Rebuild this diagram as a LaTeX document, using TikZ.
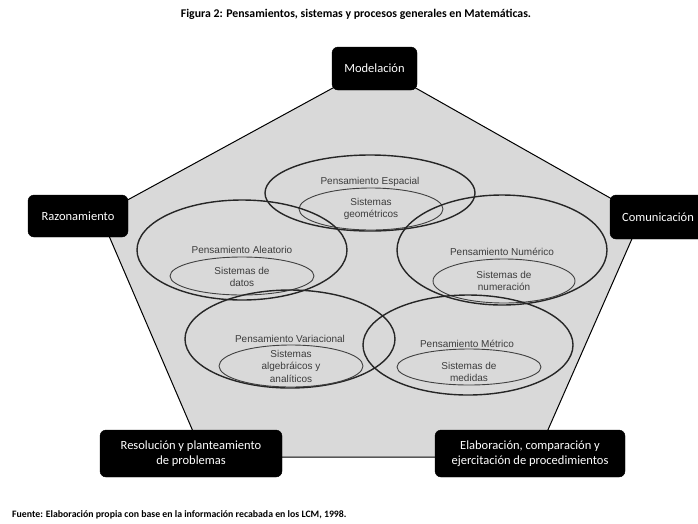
\documentclass[tikz,border=0pt]{standalone}
\usepackage{fontspec}
\setmainfont{Carlito}
\newfontfamily\arialfont{Liberation Sans}
\usetikzlibrary{positioning}

\definecolor{pentgray}{RGB}{217,217,217}
\definecolor{txtgray}{RGB}{60,60,60}

\tikzset{
  procbox/.style={fill=black, draw=black, rounded corners=6pt, text=white,
    font=\fontsize{12.5}{15}\selectfont, align=center, inner sep=2pt},
  outer/.style={draw=black!85, line width=1.4pt},
  inner/.style={draw=black!75, line width=0.9pt},
  lbl/.style={text=txtgray, font=\arialfont\fontsize{10}{12.5}\selectfont, align=center, inner sep=1pt},
}

\begin{document}
\begin{tikzpicture}[x=1pt,y=-1pt]
  \useasboundingbox (0,0) rectangle (698,523);

  % pentagon corners
  \coordinate (vTop) at (375,65);
  \coordinate (vRight) at (642,216);
  \coordinate (vBR) at (536,457);
  \coordinate (vBL) at (204,457);
  \coordinate (vLeft) at (100,215);
  \filldraw[fill=pentgray, draw=black, line width=1pt]
    (vTop) -- (vRight) -- (vBR) -- (vBL) -- (vLeft) -- cycle;

  % pensamientos
  \draw[outer] (370,193) ellipse [x radius=105, y radius=38];
  \draw[inner] (371,209) ellipse [x radius=72, y radius=21];
  \draw[outer] (242,250) ellipse [x radius=105, y radius=50];
  \draw[inner] (242,276) ellipse [x radius=72, y radius=19];
  \draw[outer] (502,250) ellipse [x radius=105, y radius=55];
  \draw[inner] (504,281) ellipse [x radius=71, y radius=22];
  \draw[outer] (290,339) ellipse [x radius=105, y radius=49];
  \draw[inner] (291,366) ellipse [x radius=72, y radius=21];
  \draw[outer] (468,345) ellipse [x radius=105, y radius=50];
  \draw[inner] (469,367) ellipse [x radius=72, y radius=18];

  \node[lbl] (espT) at (370,182) {Pensamiento Espacial};
  \node[lbl] (espS) at (371,209) {Sistemas\\geométricos};
  \node[lbl] (aleT) at (242,250) {Pensamiento Aleatorio};
  \node[lbl] (aleS) at (242,277) {Sistemas de\\datos};
  \node[lbl] (numT) at (502,252) {Pensamiento Numérico};
  \node[lbl] (numS) at (504,281) {Sistemas de\\numeración};
  \node[lbl] (varT) at (290,339) {Pensamiento Variacional};
  \node[lbl] (varS) at (291,366) {Sistemas\\algebráicos y\\analíticos};
  \node[lbl] (metT) at (467,344) {Pensamiento Métrico};
  \node[lbl] (metS) at (469,372) {Sistemas de\\medidas};

  % procesos
  \node[procbox, minimum width=85, minimum height=43] (mod) at (374.5,68.5) {Modelación};
  \node[procbox, minimum width=100, minimum height=42] (raz) at (78,216) {Razonamiento};
  \node[procbox, minimum width=96, minimum height=44] (com) at (658,217) {Comunicación};
  \node[procbox, minimum width=182, minimum height=47] (res) at (191,453.5) {Resolución y planteamiento\\de problemas};
  \node[procbox, minimum width=190, minimum height=47] (ela) at (530,453.5) {Elaboración, comparación y\\ejercitación de procedimientos};

  \node[font=\bfseries\fontsize{11.8}{14}\selectfont] (title) at (356,14) {Figura 2: Pensamientos, sistemas y procesos generales en Matemáticas.};
  \node[font=\bfseries\fontsize{9.8}{12}\selectfont, anchor=west, inner sep=0pt] (src) at (12,515) {Fuente: Elaboración propia con base en la información recabada en los LCM, 1998.};
\end{tikzpicture}
\end{document}
